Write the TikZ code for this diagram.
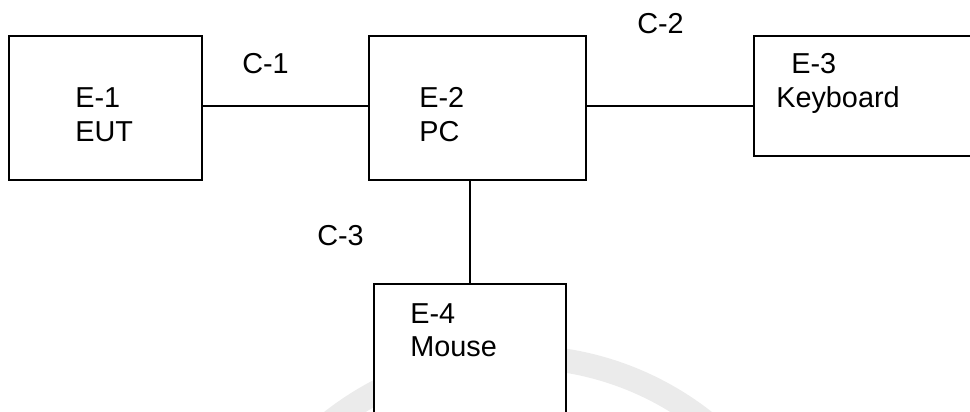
\documentclass[tikz,border=0pt]{standalone}
\usepackage{fontspec}
\setmainfont{Liberation Sans}
\usepackage{tikz}
\usetikzlibrary{calc}

\begin{document}
\begin{tikzpicture}[x=0.025cm,y=-0.025cm,
    unit/.style={draw,line width=1.4pt,fill=white,inner sep=0pt},
    wire/.style={line width=1.3pt},
    lbl/.style={anchor=base west,inner sep=0pt,font=\fontsize{20.5}{24}\selectfont}]
\useasboundingbox (0,0) rectangle (970,412);

% Draw the faint watermark behind everything
\draw[black!8,line width=17pt] (518,659) circle[radius=7.55cm];

% Draw the equipment boxes
\node[unit,minimum width=4.825cm,minimum height=3.6cm] (e1) at (105.5,108) {};
\node[unit,minimum width=5.425cm,minimum height=3.6cm] (e2) at (477.5,108) {};
\node[unit,minimum width=5.775cm,minimum height=3cm] (e3) at (869.5,96) {};
\node[unit,minimum width=4.8cm,minimum height=3.9cm] (e4) at (470,362) {};

% Box texts
\node[lbl] (e1id) at (75,108) {E-1};
\node[lbl] (e1name) at (75,142) {EUT};
\node[lbl] (e2id) at (419,108) {E-2};
\node[lbl] (e2name) at (419,142) {PC};
\node[lbl] (e3id) at (791,74) {E-3};
\node[lbl] (e3name) at (776,108) {Keyboard};
\node[lbl] (e4id) at (410,323) {E-4};
\node[lbl] (e4name) at (410,356) {Mouse};

% Draw the cables
\draw[wire] (e1.east |- 0,106) -- (e2.west |- 0,106);
\draw[wire] (e2.east |- 0,106) -- (e3.west |- 0,106);
\draw[wire] (e4.north) -- (e4.north |- e2.south);

% Cable labels
\node[lbl] (c1) at (242,74) {C-1};
\node[lbl] (c2) at (637,34) {C-2};
\node[lbl] (c3) at (317,245) {C-3};

\end{tikzpicture}
\end{document}
